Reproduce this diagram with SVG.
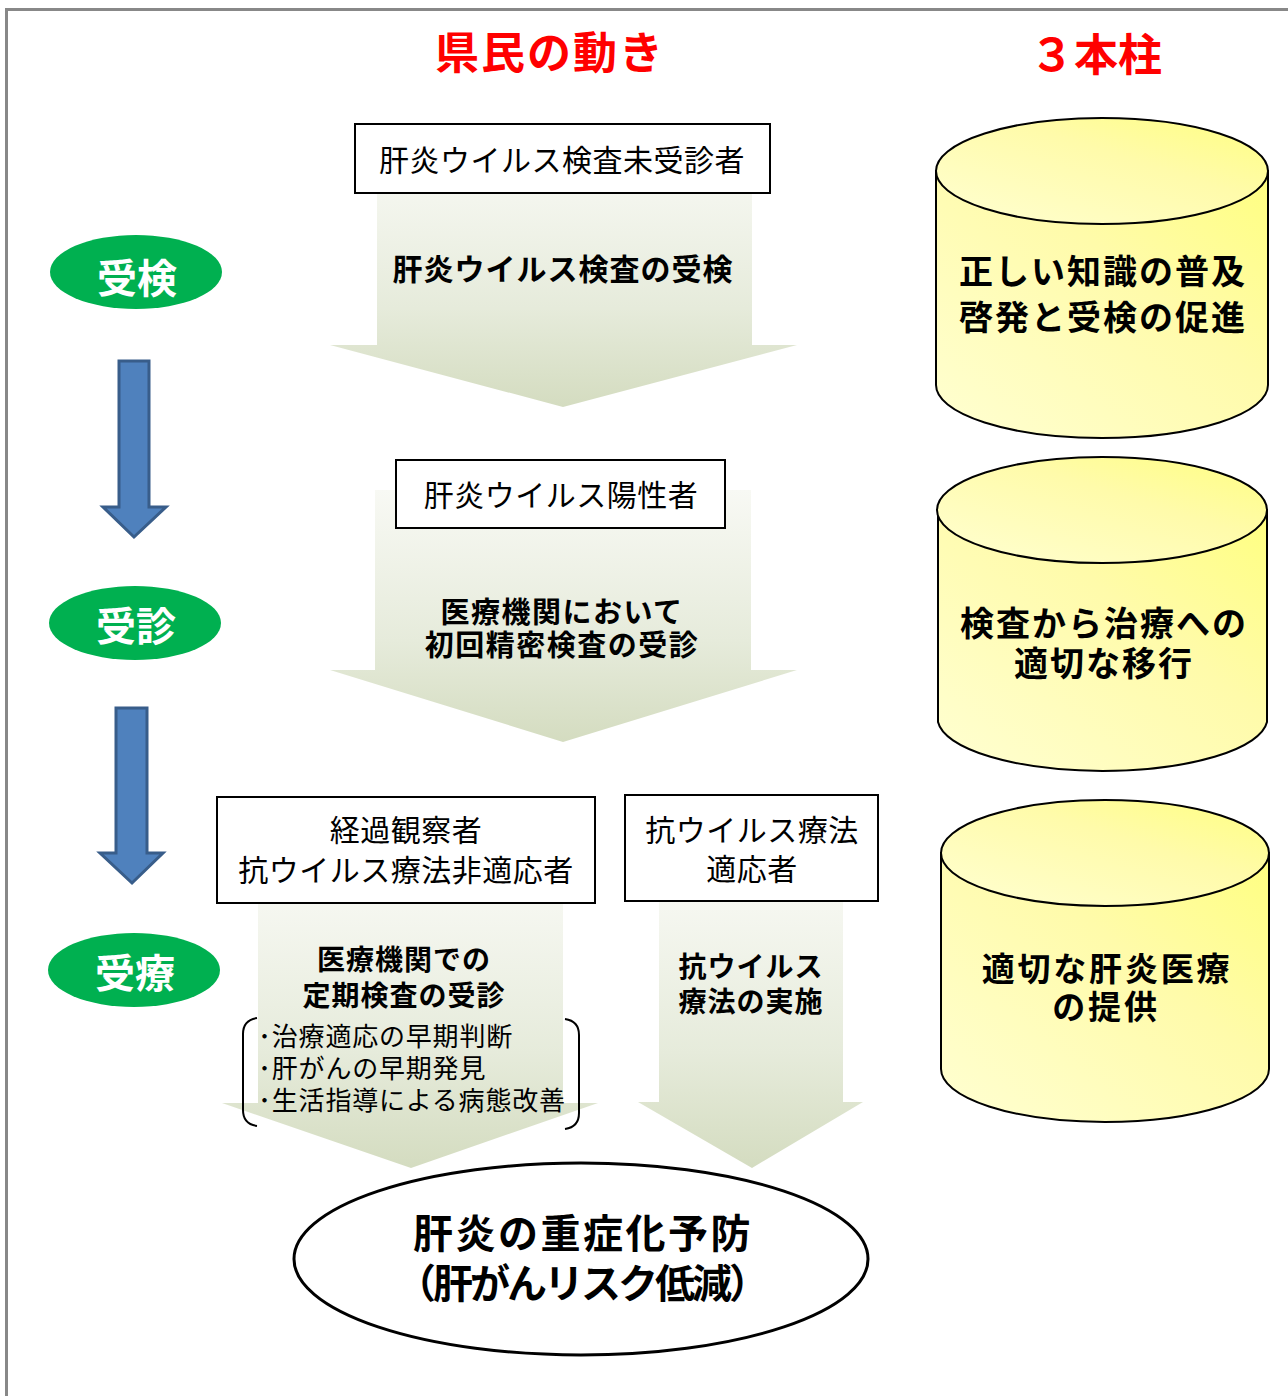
<svg xmlns="http://www.w3.org/2000/svg" width="1288" height="1396" viewBox="0 0 1288 1396">
<defs>
<linearGradient id="gArrow" x1="0" y1="0" x2="0" y2="1">
<stop offset="0" stop-color="#f8f9f4"/>
<stop offset="0.6" stop-color="#e6ebdb"/>
<stop offset="1" stop-color="#d4dcc0"/>
</linearGradient>
<linearGradient id="gCyl" x1="0" y1="1" x2="1" y2="0">
<stop offset="0" stop-color="#ffffd2"/>
<stop offset="0.6" stop-color="#fffbaa"/>
<stop offset="1" stop-color="#ffff80"/>
</linearGradient>
<style>
text{font-family:"Noto Sans CJK JP","Noto Sans CJK SC",sans-serif;text-anchor:middle;fill:#000}
.box{fill:#fff;stroke:#000;stroke-width:2}
.bt{font-size:30px;letter-spacing:0.5px}
.at{font-size:30px;font-weight:bold;letter-spacing:1px}
.ct{font-size:34px;font-weight:bold;letter-spacing:2px}
.cyl{fill:url(#gCyl);stroke:#000;stroke-width:2}
.ga{fill:url(#gArrow);stroke:none}
.ba{fill:#4f81bd;stroke:#385d8a;stroke-width:3}
.green{fill:#00b050}
.gt{font-size:40px;font-weight:bold;fill:#fff}
.title{font-size:44px;font-weight:bold;fill:#ff0000;letter-spacing:2px}
.bl{font-size:26px;letter-spacing:0.8px;text-anchor:start}
</style>
</defs>
<rect x="6.5" y="9.5" width="1300" height="1400" fill="#fff" stroke="#888" stroke-width="3"/>

<g id="titles">
<text class="title" x="550" y="69">県民の動き</text>
<text class="title" x="1096" y="71" style="letter-spacing:0">３本柱</text>
</g>

<g id="connectors">
<polygon class="ga" points="377,160 752,160 752,345 797,345 563,407 330,345 377,345"/>
<polygon class="ga" points="375,490 751,490 751,670 797,670 563,742 330,670 375,670"/>
<polygon class="ga" points="258,880 563,880 563,1103 598,1103 411,1168 222,1103 258,1103"/>
<polygon class="ga" points="659,880 843,880 843,1102 863,1102 752,1168 638,1102 659,1102"/>
<polygon class="ba" points="119,361 149,361 149,507 166,507 134,537 103,507 119,507"/>
<polygon class="ba" points="116,708 147,708 147,853 163,853 132,883 100,853 116,853"/>
</g>

<g id="step-kenshin">
<ellipse class="green" cx="136" cy="272" rx="86" ry="37"/>
<text class="gt" x="137" y="293">受検</text>
</g>
<g id="step-jushin">
<ellipse class="green" cx="135" cy="623" rx="86" ry="37"/>
<text class="gt" x="136" y="641">受診</text>
</g>
<g id="step-juryo">
<ellipse class="green" cx="134" cy="970" rx="86" ry="37"/>
<text class="gt" x="135" y="988">受療</text>
</g>

<g id="box-mijushin">
<rect class="box" x="355" y="124" width="415" height="69"/>
<text class="bt" x="562" y="171">肝炎ウイルス検査未受診者</text>
</g>
<g id="label-kensa">
<text class="at" x="563" y="280">肝炎ウイルス検査の受検</text>
</g>

<g id="box-yousei">
<rect class="box" x="396" y="460" width="329" height="68"/>
<text class="bt" x="561" y="506">肝炎ウイルス陽性者</text>
</g>
<g id="label-seimitsu">
<text class="at" style="font-size:29px;letter-spacing:1.5px"><tspan x="562" y="623">医療機関において</tspan><tspan x="562" y="656">初回精密検査の受診</tspan></text>
</g>

<g id="box-keika">
<rect class="box" x="217" y="797" width="378" height="106"/>
<text class="bt"><tspan x="406" y="841">経過観察者</tspan><tspan x="406" y="881">抗ウイルス療法非適応者</tspan></text>
</g>
<g id="label-teiki">
<text class="at" style="font-size:28px"><tspan x="404" y="970">医療機関での</tspan><tspan x="404" y="1006">定期検査の受診</tspan></text>
<path d="M257,1018 Q243,1020 243,1034 L243,1110 Q243,1124 257,1126" fill="none" stroke="#000" stroke-width="2"/>
<path d="M565,1019 Q579,1021 579,1035 L579,1113 Q579,1127 565,1129" fill="none" stroke="#000" stroke-width="2"/>
<text class="bl"><tspan x="258" y="1046">･治療適応の早期判断</tspan><tspan x="258" y="1078">･肝がんの早期発見</tspan><tspan x="258" y="1110">･生活指導による病態改善</tspan></text>
</g>

<g id="box-tekiou">
<rect class="box" x="625" y="795" width="253" height="106"/>
<text class="bt"><tspan x="752" y="841">抗ウイルス療法</tspan><tspan x="752" y="880">適応者</tspan></text>
</g>
<g id="label-jisshi">
<text class="at" style="font-size:28px"><tspan x="751" y="977">抗ウイルス</tspan><tspan x="751" y="1012">療法の実施</tspan></text>
</g>

<g id="goal">
<ellipse cx="581" cy="1259" rx="287" ry="96" fill="#fff" stroke="#000" stroke-width="3"/>
<text style="font-size:40px;font-weight:bold"><tspan x="583" y="1248" style="letter-spacing:2.5px">肝炎の重症化予防</tspan><tspan x="581" y="1298" style="letter-spacing:-3px">（肝がんリスク低減）</tspan></text>
</g>

<g id="pillar-1">
<path class="cyl" d="M936,171 L936,385 A166,53 0 0 0 1268,385 L1268,171 Z"/>
<ellipse class="cyl" cx="1102" cy="171" rx="166" ry="53"/>
<text class="ct"><tspan x="1103" y="284">正しい知識の普及</tspan><tspan x="1103" y="330">啓発と受検の促進</tspan></text>
</g>
<g id="pillar-2">
<path class="cyl" d="M938,510 L938,722 A165,53 0 0 0 1267,722 L1267,510 Z"/>
<ellipse class="cyl" cx="1102" cy="510" rx="165" ry="53"/>
<text class="ct"><tspan x="1104" y="636">検査から治療への</tspan><tspan x="1104" y="676">適切な移行</tspan></text>
</g>
<g id="pillar-3">
<path class="cyl" d="M941,853 L941,1069 A164,53 0 0 0 1269,1069 L1269,853 Z"/>
<ellipse class="cyl" cx="1105" cy="853" rx="164" ry="53"/>
<text class="ct" style="font-size:33px;letter-spacing:2.8px"><tspan x="1107" y="981">適切な肝炎医療</tspan><tspan x="1106" y="1019">の提供</tspan></text>
</g>
</svg>
